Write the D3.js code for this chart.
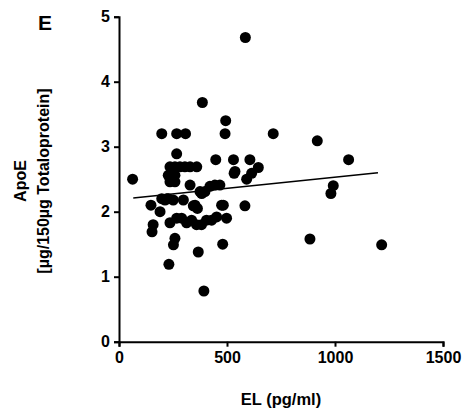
<!DOCTYPE html>
<html>
<head>
<meta charset="utf-8">
<script src="https://cdn.jsdelivr.net/npm/d3@7"></script>
<style>
  body { margin: 0; background: #fff; }
  text { font-family: "Liberation Sans", Arial, sans-serif; font-weight: bold; fill: #000; }
</style>
</head>
<body>
<div id="chart"></div>
<script>
// EL (pg/ml) vs ApoE
var elValues = [63, 386, 198, 267, 308, 494, 491, 714, 918, 267, 448, 530, 606, 533, 537,
  236, 259, 282, 305, 329, 360, 228, 259, 236, 259, 329, 591, 614, 645, 375, 398,
  383, 421, 444, 467, 1063, 992, 981, 148, 190, 213, 228, 251, 298, 352, 363, 483, 583,
  221, 158, 153, 236, 267, 290, 313, 336, 359, 382, 405, 429, 452, 475, 498,
  259, 252, 367, 480, 884, 1216, 231, 393, 585, 243, 344, 198];
var apoeValues = [2.50, 3.68, 3.2, 3.2, 3.2, 3.40, 3.2, 3.2, 3.09, 2.89, 2.80, 2.80, 2.80, 2.59, 2.62,
  2.69, 2.69, 2.69, 2.69, 2.69, 2.69, 2.56, 2.56, 2.46, 2.46, 2.41, 2.50, 2.59, 2.68, 2.31, 2.31,
  2.28, 2.39, 2.41, 2.41, 2.80, 2.40, 2.28, 2.10, 2.00, 2.18, 2.20, 2.18, 2.18, 2.10, 2.05, 2.10, 2.09,
  2.20, 1.80, 1.69, 1.83, 1.90, 1.90, 1.83, 1.87, 1.80, 1.80, 1.87, 1.87, 1.92, 2.10, 1.90,
  1.59, 1.49, 1.38, 1.50, 1.58, 1.49, 1.19, 0.78, 4.68, 2.49, 2.09, 2.20];

// regression line ends
var fitX = [66, 1199];
var fitY = [2.21, 2.60];

var xTicks = [0, 500, 1000, 1500];
var yTicks = [0, 1, 2, 3, 4, 5];

var width = 463, height = 412;

var svg = d3.select("#chart").append("svg")
    .attr("width", width)
    .attr("height", height);

var x = d3.scaleLinear().domain([0, 1500]).range([119, 443]);
var y = d3.scaleLinear().domain([0, 5]).range([341.7, 16.7]);

var points = elValues.map(function (d, i) { return { x: d, y: apoeValues[i] }; });

svg.append("g")
    .attr("class", "dots")
    .selectAll("circle")
    .data(points)
    .enter().append("circle")
    .attr("cx", function (d) { return x(d.x); })
    .attr("cy", function (d) { return y(d.y); })
    .attr("r", 5.5)
    .attr("fill", "#000");

svg.append("line")
    .attr("x1", x(fitX[0])).attr("y1", y(fitY[0]))
    .attr("x2", x(fitX[1])).attr("y2", y(fitY[1]))
    .attr("stroke", "#000")
    .attr("stroke-width", 1.6);

var xAxis = svg.append("g")
    .attr("transform", "translate(0," + y(0) + ")")
    .call(d3.axisBottom(x).tickValues(xTicks).tickFormat(d3.format("d")).tickSize(5).tickPadding(5));
var yAxis = svg.append("g")
    .attr("transform", "translate(" + x(0) + ",0)")
    .call(d3.axisLeft(y).tickValues(yTicks).tickFormat(d3.format("d")).tickSize(5).tickPadding(4));

[xAxis, yAxis].forEach(function (ax) {
  ax.select(".domain").attr("stroke", "#000").attr("stroke-width", 2);
  ax.selectAll(".tick line").attr("stroke", "#000").attr("stroke-width", 2);
  ax.selectAll(".tick text")
      .attr("font-family", "Liberation Sans, Arial, sans-serif")
      .attr("font-weight", "bold")
      .attr("font-size", 16)
      .attr("fill", "#000");
});

svg.append("text")
    .attr("x", 281)
    .attr("y", 405)
    .attr("text-anchor", "middle")
    .attr("font-size", 16.5)
    .text("EL (pg/ml)");

var yl = svg.append("text")
    .attr("transform", "translate(26,181)rotate(-90)")
    .attr("text-anchor", "middle")
    .attr("font-size", 16);
yl.append("tspan").attr("x", 0).attr("dy", 0).text("ApoE");
yl.append("tspan").attr("x", 0).attr("dy", 23).text("[µg/150µg Totaloprotein]");

svg.append("text")
    .attr("x", 45)
    .attr("y", 30)
    .attr("text-anchor", "middle")
    .attr("font-size", 21)
    .text("E");
</script>
</body>
</html>
